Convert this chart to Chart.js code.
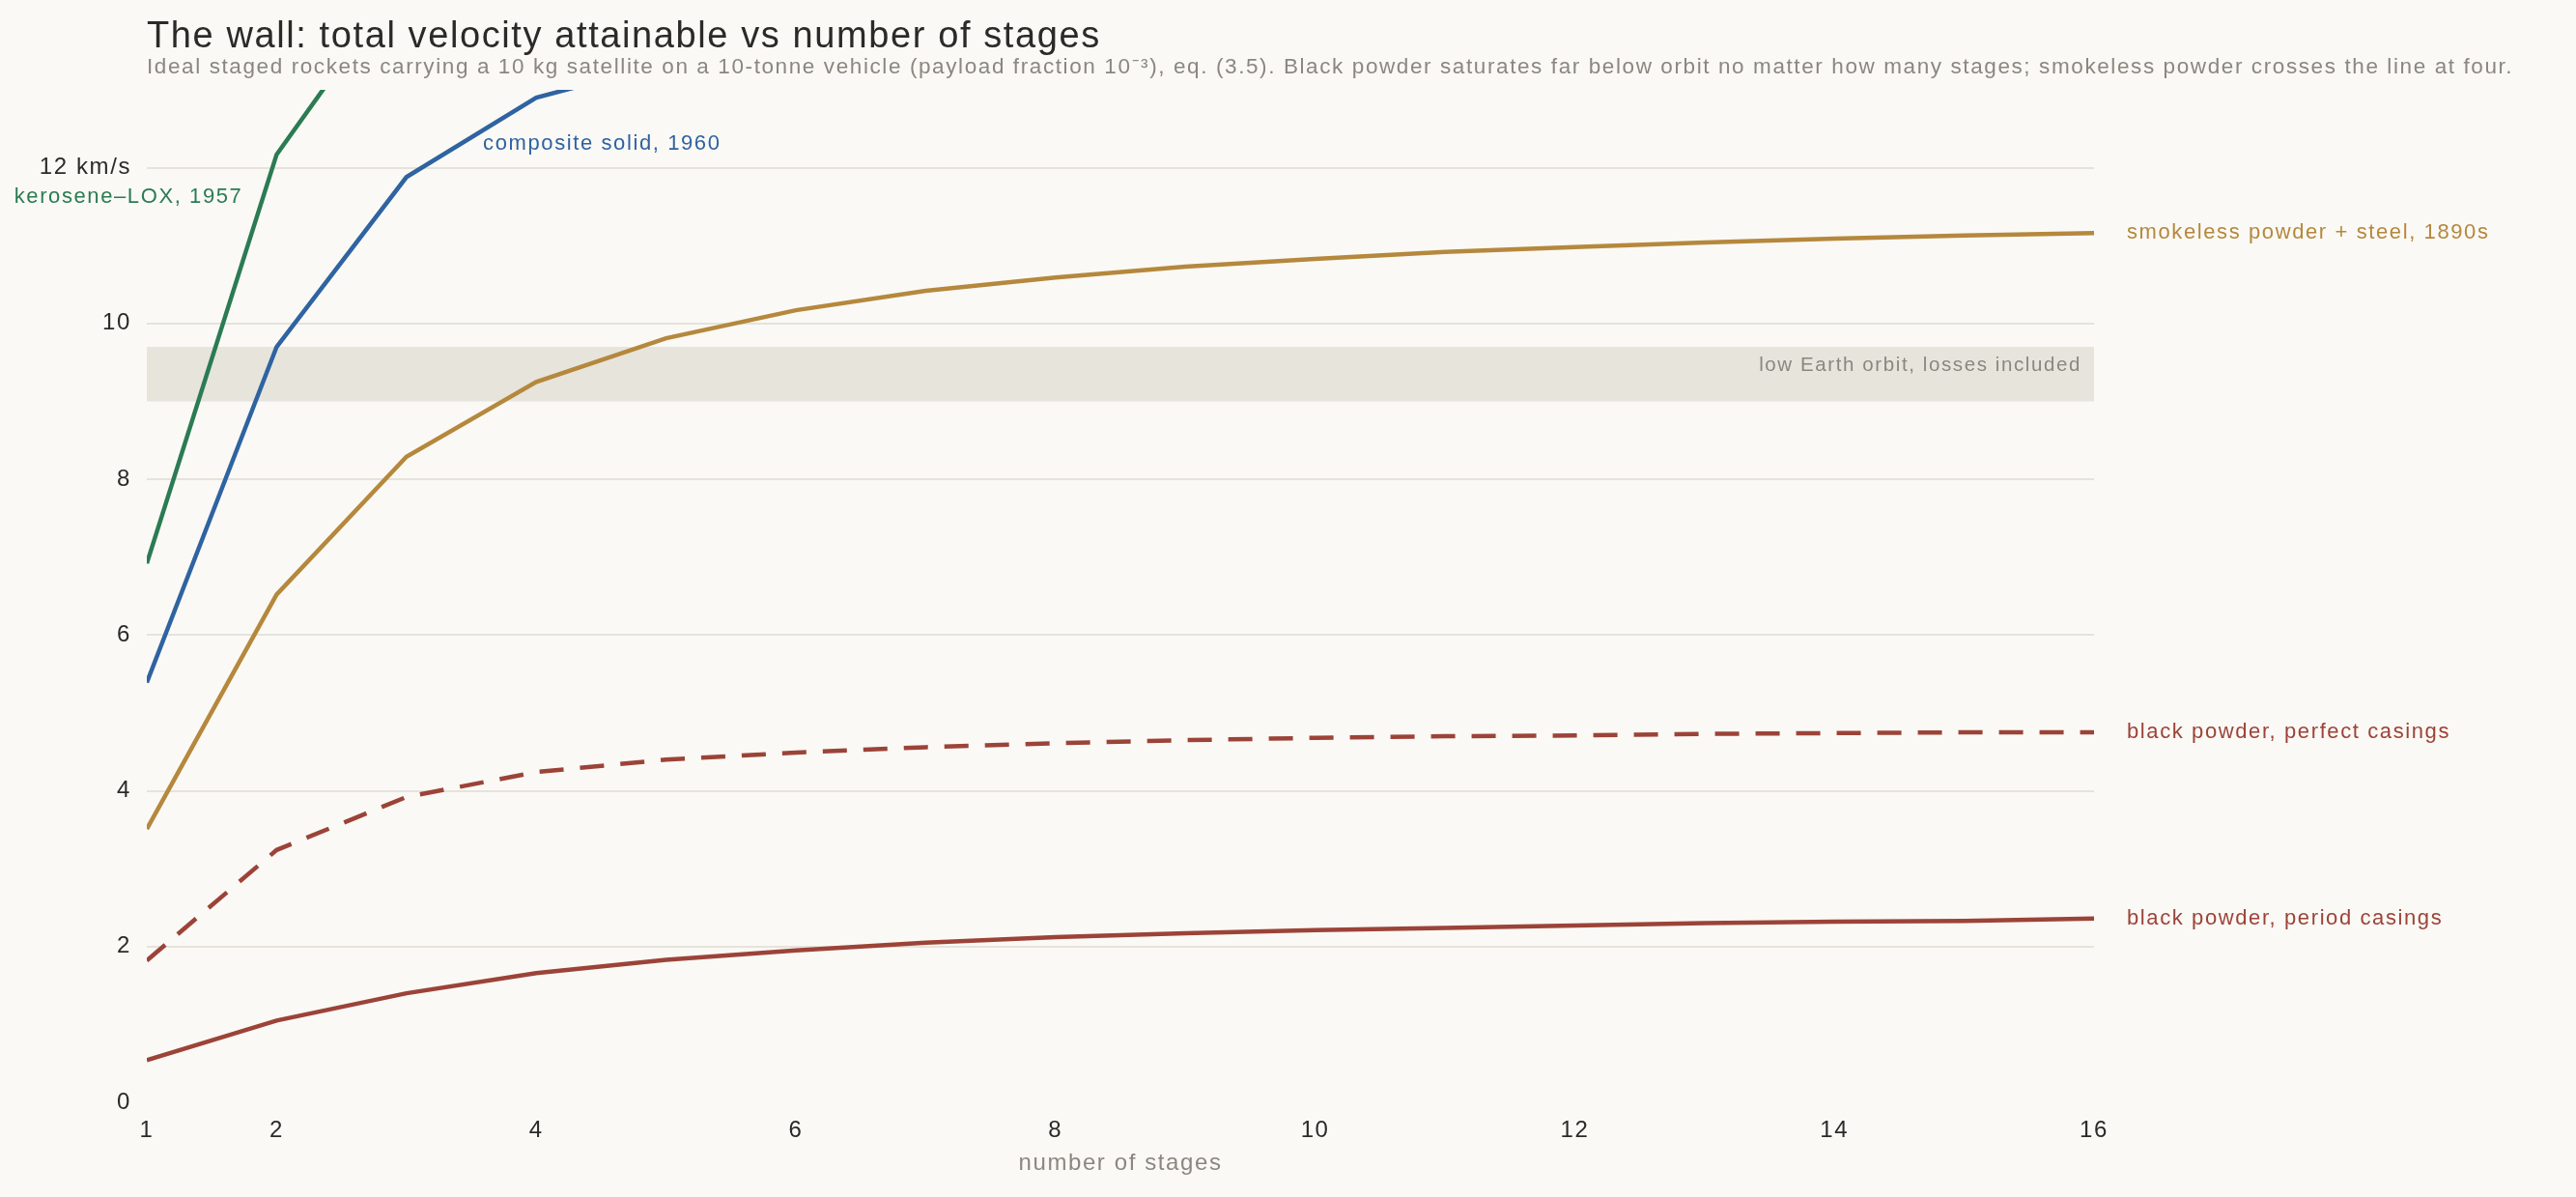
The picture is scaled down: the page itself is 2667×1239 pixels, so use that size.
<!DOCTYPE html>
<html>
<head>
<meta charset="utf-8">
<script src="https://cdn.jsdelivr.net/npm/chart.js@4"></script>
<style>
  html, body { margin: 0; padding: 0; background: #faf9f5; }
  #wrap { width: 2667px; height: 1239px; position: relative; }
</style>
</head>
<body>
<div id="wrap"><canvas id="chart"></canvas></div>
<script>
// number of stages on the x axis
const STAGES = [1, 2, 3, 4, 5, 6, 7, 8, 9, 10, 11, 12, 13, 14, 15, 16];

// total velocity, km/s
const PERIOD_CASINGS  = [0.54, 1.05, 1.40, 1.66, 1.83, 1.95, 2.05, 2.12, 2.17, 2.21, 2.24, 2.27, 2.30, 2.32, 2.33, 2.36];
const PERFECT_CASINGS = [1.82, 3.24, 3.92, 4.24, 4.40, 4.49, 4.56, 4.61, 4.65, 4.68, 4.70, 4.71, 4.73, 4.74, 4.75, 4.75];
const SMOKELESS       = [3.51, 6.52, 8.29, 9.25, 9.81, 10.17, 10.42, 10.59, 10.73, 10.83, 10.92, 10.98, 11.04, 11.09, 11.13, 11.16];
// these two run off the top of the plot; values past the clip are estimates
const COMPOSITE       = [5.39, 9.70, 11.88, 12.90, 13.34, 13.62, 13.82, 13.96, 14.07, 14.15, 14.22, 14.27, 14.31, 14.35, 14.38, 14.40];
const KEROSENE        = [6.92, 12.17, 14.50, 15.60, 16.20, 16.60, 16.85, 17.05, 17.20, 17.30, 17.38, 17.45, 17.50, 17.55, 17.58, 17.61];

const X_TICKS = [1, 2, 4, 6, 8, 10, 12, 14, 16];
const Y_TICKS = [0, 2, 4, 6, 8, 10, 12];
const Y_MAX = 13;

// low Earth orbit band, km/s
const LEO_LOW = 9.0;
const LEO_HIGH = 9.7;

const GREEN = '#2b7b53';
const BLUE = '#2f63a1';
const GOLD = '#b5883d';
const RED = '#9c4338';
const GREY = '#8b8780';
const INK = '#2b2a28';
const FONT = '"Liberation Sans", Arial, Helvetica, sans-serif';
const TRACKING = '1.6px';

const pts = vals => STAGES.map((s, i) => ({ x: s, y: vals[i] }));

const line = (label, vals, color, dash) => ({
  label,
  data: pts(vals),
  borderColor: color,
  borderWidth: 4.5,
  borderDash: dash || [],
  pointRadius: 0,
  tension: 0,
  fill: false
});

const endLabels = [
  { text: 'smokeless powder + steel, 1890s', vals: SMOKELESS, color: GOLD },
  { text: 'black powder, perfect casings', vals: PERFECT_CASINGS, color: RED },
  { text: 'black powder, period casings', vals: PERIOD_CASINGS, color: RED }
];

// callouts for the two lines that leave the plot
const callouts = [
  { text: 'composite solid, 1960', x: 3.59, y: 12.30, align: 'left', color: BLUE },
  { text: 'kerosene\u2013LOX, 1957', x: 1.74, y: 11.62, align: 'right', color: GREEN }
];

const decor = {
  id: 'decor',
  beforeDraw(chart) {
    // the reference text is set a little loose
    chart.ctx.letterSpacing = TRACKING;
  },
  beforeDatasetsDraw(chart) {
    const { ctx, chartArea: a, scales: { y } } = chart;
    const top = y.getPixelForValue(LEO_HIGH);
    const bot = y.getPixelForValue(LEO_LOW);
    ctx.save();
    ctx.fillStyle = '#e7e4dc';
    ctx.fillRect(a.left, top, a.right - a.left, bot - top);
    ctx.fillStyle = GREY;
    ctx.font = '20.5px ' + FONT;
    ctx.textAlign = 'right';
    ctx.textBaseline = 'alphabetic';
    ctx.fillText('low Earth orbit, losses included', a.right - 13, top + 25);
    ctx.restore();
  },
  afterDatasetsDraw(chart) {
    const { ctx, chartArea: a, scales: { x, y } } = chart;
    ctx.save();
    ctx.font = '22px ' + FONT;
    ctx.textBaseline = 'middle';
    ctx.textAlign = 'left';
    endLabels.forEach(l => {
      ctx.fillStyle = l.color;
      ctx.fillText(l.text, a.right + 34, y.getPixelForValue(l.vals[l.vals.length - 1]));
    });
    callouts.forEach(c => {
      ctx.fillStyle = c.color;
      ctx.textAlign = c.align;
      ctx.fillText(c.text, x.getPixelForValue(c.x), y.getPixelForValue(c.y));
    });

    ctx.textAlign = 'left';
    ctx.textBaseline = 'alphabetic';
    ctx.fillStyle = INK;
    ctx.font = '38px ' + FONT;
    ctx.fillText('The wall: total velocity attainable vs number of stages', a.left, 49);
    ctx.fillStyle = GREY;
    ctx.font = '22.5px ' + FONT;
    ctx.fillText('Ideal staged rockets carrying a 10 kg satellite on a 10-tonne vehicle (payload fraction 10\u207B\u00B3), eq. (3.5). Black powder saturates far below orbit no matter how many stages; smokeless powder crosses the line at four.', a.left, 76);
    ctx.restore();
  }
};

new Chart(document.getElementById('chart'), {
  type: 'line',
  data: {
    datasets: [
      line('black powder, period casings', PERIOD_CASINGS, RED),
      line('black powder, perfect casings', PERFECT_CASINGS, RED, [25, 17]),
      line('smokeless powder + steel, 1890s', SMOKELESS, GOLD),
      line('composite solid, 1960', COMPOSITE, BLUE),
      line('kerosene-LOX, 1957', KEROSENE, GREEN)
    ]
  },
  options: {
    responsive: true,
    maintainAspectRatio: false,
    animation: false,
    layout: { padding: { left: 0, right: 499, top: 93, bottom: 0 } },
    plugins: { legend: { display: false }, tooltip: { enabled: false } },
    scales: {
      x: {
        type: 'linear',
        min: 1,
        max: 16,
        afterBuildTicks: s => { s.ticks = X_TICKS.map(v => ({ value: v })); },
        afterFit: s => { s.height = 98; },
        grid: { display: false },
        border: { display: false },
        ticks: { font: { size: 24, family: FONT }, color: INK, padding: 7, maxRotation: 0 },
        title: { display: true, text: 'number of stages', color: GREY, font: { size: 24, family: FONT }, padding: { top: 0, bottom: 20 } }
      },
      y: {
        min: 0,
        max: Y_MAX,
        afterBuildTicks: s => { s.ticks = Y_TICKS.map(v => ({ value: v })); },
        afterFit: s => { s.width = 152; },
        grid: {
          color: c => (c.tick && c.tick.value === 0) ? 'rgba(0,0,0,0)' : '#e6e3db',
          lineWidth: 2,
          drawTicks: false
        },
        border: { display: false },
        ticks: {
          font: { size: 24, family: FONT },
          color: INK,
          padding: 16,
          callback: v => v === 12 ? '12 km/s' : v
        }
      }
    }
  },
  plugins: [decor]
});
</script>
</body>
</html>
